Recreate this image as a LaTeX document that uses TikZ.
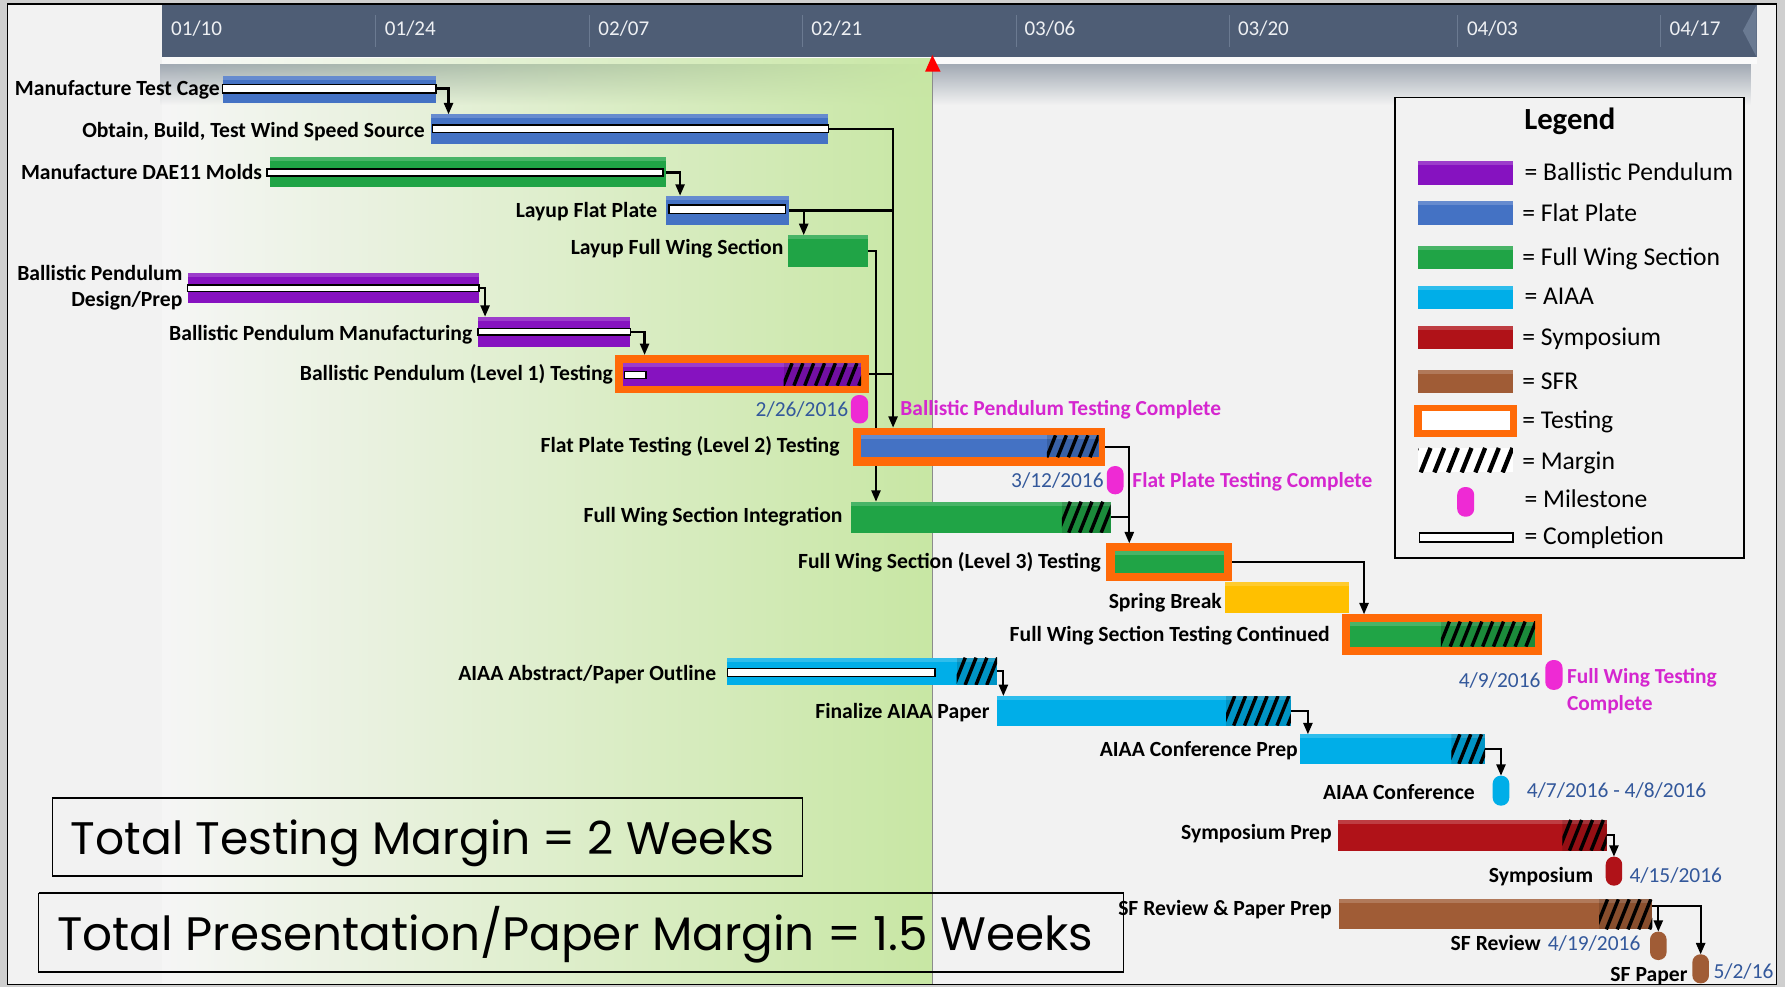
\documentclass[tikz,border=0pt]{standalone}
\usepackage{fontspec}
\setmainfont{Carlito}
\newfontfamily\gothicfont{Poppins}
\usetikzlibrary{fit,arrows.meta,fadings,calc}
\definecolor{outerc}{HTML}{CFCFCF}
\definecolor{bgc}{HTML}{F2F2F2}
\definecolor{bgl}{HTML}{F6F6F6}
\definecolor{bandc}{HTML}{A2AAB4}
\definecolor{todayg}{HTML}{C8E7A4}
\definecolor{todayline}{HTML}{8C8C8C}
\definecolor{hdrc}{HTML}{4E5D75}
\definecolor{hdrsep}{HTML}{6B7A91}
\definecolor{hdrtext}{HTML}{EEF0F3}
\definecolor{hdrtip}{HTML}{6A7A92}
\definecolor{barblue}{HTML}{4472C4}
\definecolor{bargreen}{HTML}{20A446}
\definecolor{barpurple}{HTML}{8612C0}
\definecolor{barcyan}{HTML}{00AEE8}
\definecolor{barred}{HTML}{B01218}
\definecolor{barbrown}{HTML}{A05C36}
\definecolor{baryellow}{HTML}{FFC000}
\definecolor{testorange}{HTML}{FF6A08}
\definecolor{msmag}{HTML}{EE2AD4}
\definecolor{mstext}{HTML}{D526CF}
\definecolor{dateblue}{HTML}{33589B}
\pgfdeclarelayer{bg}
\pgfdeclarelayer{connlayer}
\pgfsetlayers{bg,connlayer,main}
\tikzset{
  bar/.style={inner sep=0pt, outer sep=0pt, draw=none},
  lbl/.style={font=\fontsize{19}{20}\selectfont\bfseries, inner sep=0pt, text=black},
  datel/.style={font=\fontsize{18.8}{20}\selectfont, inner sep=0pt, text=dateblue},
  msl/.style={font=\fontsize{18.8}{20}\selectfont\bfseries, inner sep=0pt, text=mstext},
  legt/.style={font=\fontsize{22.5}{24}\selectfont, inner sep=0pt, text=black, anchor=base west},
  hdr/.style={font=\fontsize{18.5}{20}\selectfont, text=hdrtext, inner sep=0pt, anchor=base west},
  conn/.style={line width=1.9pt, -{Triangle[length=10pt,width=8pt]}},
  connl/.style={line width=1.9pt},
  compl/.style={fill=white, draw=black, line width=1.3pt, inner sep=0pt, outer sep=0pt},
  pill/.style={inner sep=0pt, outer sep=0pt, rounded corners=7pt, draw=none},
  testbox/.style={inner sep=0pt, outer sep=0pt, fill=testorange, draw=none},
  bigbox/.style={inner sep=0pt, outer sep=0pt, draw=black, line width=0.8pt},
}
\newcommand\gbar[6]{%
  \node[bar, fill=#6, fit={(#2,#3) (#4,#5)}] (#1) {};
  \fill[#6!82!white] (#1.north west) rectangle ([yshift=-3.5pt]#1.north east);
}
\newcommand\cbar[5]{\node[compl, fit={(#2,#3) (#4,#5)}] (#1) {};}
\newcommand\tbox[5]{\node[testbox, fit={(#2,#3) (#4,#5)}] (#1) {};}
\newcommand\mstone[6]{\node[pill, fill=#6, fit={(#2,#3) (#4,#5)}] (#1) {};}
\newcommand\hatch[6][9.5]{%
  \begin{scope}
    \clip (#2,#3) rectangle (#4,#5);
    \fill[black, opacity=0.15] (#2,#3) rectangle (#4,#5);
    \pgfmathsetmacro\hh{#5-#3}
    \pgfmathsetmacro\hd{0.4*\hh}
    \pgfmathsetmacro\ha{#2-\hd-2}
    \pgfmathsetmacro\hb{\ha+#1}
    \foreach \k in {\ha,\hb,...,#4} \draw[line width=#6] (\k,#5) -- ++(\hd,-\hh);
  \end{scope}}
\begin{document}
\begin{tikzpicture}[x=1pt,y=-1pt]
\useasboundingbox (0,0) rectangle (1568,867);
\begin{pgfonlayer}{bg}
  \fill[outerc] (0,0) rectangle (1568,867);
  \fill[bgc] (6.5,3.5) rectangle (1560.5,865);
  \fill[bgl] (142,50) rectangle (819,865);
  \fill[white!60!bgc] (142,50) rectangle (1543,56.5);
  \fill[bandc, path fading=south] (142,56.5) rectangle (1543,92);
  \fill[todayg, path fading=west] (142,51) rectangle (819,865);
  \draw[todayline, line width=1pt] (819,60) -- (819,865);
  \draw[black, line width=1.3pt] (6.5,3.5) rectangle (1560.5,865);
  \fill[hdrc] (142,4.4) rectangle (1543,50);
  \fill[hdrtip] (1531,27) -- (1543,4.4) -- (1543,50) -- cycle;
  \foreach \sx in {330,518,705,893,1080,1280,1459}
    \draw[hdrsep, line width=0.8pt] (\sx,13) -- (\sx,41);
  \fill[red] (819,48.3) -- (826.3,63) -- (812.6,63) -- cycle;
\end{pgfonlayer}
% header dates
\node[hdr] (h1) at (150.2,31.6) {01/10};
\node[hdr] (h2) at (337.9,31.6) {01/24};
\node[hdr] (h3) at (525.5,31.6) {02/07};
\node[hdr] (h4) at (712.5,31.6) {02/21};
\node[hdr] (h5) at (899.8,31.6) {03/06};
\node[hdr] (h6) at (1087.3,31.6) {03/20};
\node[hdr] (h7) at (1288.5,31.6) {04/03};
\node[hdr] (h8) at (1466.4,31.6) {04/17};
% legend
\node[draw=black, fill=bgc, line width=1.3pt, inner sep=0pt, fit={(1225.6,85.8) (1532,490)}] (legend) {};
\node[font=\fontsize{27}{28}\selectfont\bfseries, inner sep=0pt, anchor=base] (legtitle) at (1379,113.6) {Legend};
\gbar{lg1}{1245.6}{141.4}{1329}{162.5}{barpurple}
\gbar{lg2}{1245.6}{177}{1329}{198}{barblue}
\gbar{lg3}{1245.6}{216}{1329}{236.6}{bargreen}
\gbar{lg4}{1245.6}{251}{1329}{271.7}{barcyan}
\gbar{lg5}{1245.6}{286.4}{1329}{306.7}{barred}
\gbar{lg6}{1245.6}{325}{1329}{345.5}{barbrown}
\tbox{lg7}{1241.8}{355.8}{1333}{383.6}
\node[bar, fill=white, fit={(1249,361) (1326,377.7)}] (lg7i) {};
\node[bar, fill=white, fit={(1245.6,393.5) (1329,415)}] (lg8) {};
\begin{scope}
  \clip (1245.6,393.5) rectangle (1329,415);
  \foreach \k in {1236,1248,...,1330} \draw[line width=3.8pt] (\k,415) -- ++(8.6,-21.5);
\end{scope}
\mstone{lg9}{1280}{427.8}{1295}{453.9}{msmag}
\cbar{lg10}{1247}{468}{1329}{476}
\node[legt] (lt1) at (1339,158.7) {= Ballistic Pendulum};
\node[legt] (lt2) at (1337,194.7) {= Flat Plate};
\node[legt] (lt3) at (1337,233.2) {= Full Wing Section};
\node[legt] (lt4) at (1339,267.8) {= AIAA};
\node[legt] (lt5) at (1337,303.9) {= Symposium};
\node[legt] (lt6) at (1337,342.2) {= SFR};
\node[legt] (lt7) at (1337,376.2) {= Testing};
\node[legt] (lt8) at (1337,412.8) {= Margin};
\node[legt] (lt9) at (1339,446.2) {= Milestone};
\node[legt] (lt10) at (1339,478.6) {= Completion};
% bars
\gbar{mtc}{195.6}{66.8}{383.2}{90.8}{barblue}
\cbar{mtc-c}{195.6}{74}{383}{81.5}
\gbar{obtain}{378.2}{100.4}{727.7}{126.5}{barblue}
\cbar{obtain-c}{380}{109.8}{727.7}{116.6}
\gbar{dae}{237}{138.2}{585}{164}{bargreen}
\cbar{dae-c}{234.5}{148.5}{582.4}{154.6}
\gbar{lfp}{585}{171.9}{693}{198}{barblue}
\cbar{lfp-c}{587.5}{180}{690}{187.4}
\gbar{lfw}{692.5}{206.5}{762.4}{234.3}{bargreen}
\gbar{bpd}{164.9}{239.5}{420.6}{265.9}{barpurple}
\cbar{bpd-c}{164.9}{250.4}{420.6}{256.2}
\gbar{bpm}{420}{278.2}{553.7}{304.5}{barpurple}
\cbar{bpm-c}{420}{288.4}{553.7}{294.3}
\tbox{bpt}{540.6}{311.8}{763}{345.5}
\gbar{bpt-i}{547}{319}{756.4}{338.8}{barpurple}
\hatch{688.3}{319}{756.4}{338.8}{3pt}
\cbar{bpt-c}{548.6}{326.5}{567.3}{332.3}
\tbox{fpt}{749}{375.7}{971}{409}
\gbar{fpt-i}{756.3}{382.4}{965}{401.7}{barblue}
\hatch{919.7}{382.4}{965}{401.7}{3pt}
\gbar{fwi}{747.6}{440.7}{975.7}{467.9}{bargreen}
\hatch{932.7}{440.7}{975.7}{467.9}{3pt}
\tbox{fwt}{971.7}{477.3}{1082.2}{510}
\gbar{fwt-i}{979.4}{483.7}{1075.6}{503}{bargreen}
\gbar{sb}{1076}{511.5}{1185}{538.2}{baryellow}
\tbox{fwc}{1178.5}{539.6}{1354.9}{575.4}
\gbar{fwc-i}{1186}{546}{1348.4}{568}{bargreen}
\hatch{1265.7}{546}{1348.4}{568}{3pt}
\gbar{aab}{638.9}{577.7}{875.9}{601.7}{barcyan}
\hatch{840.4}{577.7}{875.9}{601.7}{3pt}
\cbar{aab-c}{638.9}{587}{821.2}{594.4}
\gbar{faa}{875.8}{611.4}{1133.9}{637.4}{barcyan}
\hatch{1077.1}{611.4}{1133.9}{637.4}{3pt}
\gbar{acp}{1142}{645}{1304.5}{671}{barcyan}
\hatch{1274.9}{645}{1304.5}{671}{3pt}
\gbar{syp}{1175}{720.3}{1411.3}{747.2}{barred}
\hatch{1372.4}{720.3}{1411.3}{747.2}{3pt}
\gbar{sfr}{1176.2}{790}{1451.4}{816.4}{barbrown}
\hatch{1404.6}{790}{1451.4}{816.4}{3pt}
% milestones
\mstone{m1}{747.4}{347}{762.6}{372}{msmag}
\mstone{m2}{972.2}{409.4}{987}{434.2}{msmag}
\mstone{m3}{1357.4}{579.8}{1372.6}{606}{msmag}
\mstone{m4}{1311.2}{681.4}{1325.8}{707.7}{barcyan}
\mstone{m5}{1410.5}{752.5}{1425}{778}{barred}
\mstone{m6}{1449.4}{818.4}{1464}{843.3}{barbrown}
\mstone{m7}{1486.6}{838.3}{1501.2}{863.8}{barbrown}
% connectors
\coordinate (v1) at (784.5,0);
\coordinate (v2) at (769.5,0);
\coordinate (v3) at (992,0);
\begin{pgfonlayer}{connlayer}
  \draw[conn] (mtc-c.east) -- ++(11,0) coordinate (a1) -- (a1 |- obtain.north);
  \draw[conn] (obtain-c.east) -- (obtain-c.east -| v1) -- (v1 |- fpt.north);
  \draw[conn] (dae-c.east) -- ++(15,0) coordinate (a3) -- (a3 |- lfp.north);
  \draw[conn] (lfp.east) -- ++(13,0) coordinate (a4) -- (a4 |- lfw.north);
  \draw[connl] (lfp.east) -- (lfp.east -| v1);
  \draw[conn] (lfw.east) -- (lfw.east -| v2) -- (v2 |- fwi.north);
  \draw[connl] (bpt.east) -- (bpt.east -| v1);
  \draw[conn] (bpd-c.east) -- ++(5.5,0) coordinate (a7) -- (a7 |- bpm.north);
  \draw[conn] (bpm-c.east) -- ++(12.5,0) coordinate (a8) -- (a8 |- bpt.north);
  \draw[conn] (fpt.east) -- (fpt.east -| v3) -- (v3 |- fwt.north);
  \draw[connl] (fwi.east) -- (fwi.east -| v3);
  \draw[conn] (fwt.east) -- ++(116,0) coordinate (a10) -- (a10 |- fwc.north);
  \draw[conn] (aab.east) -- ++(5.5,0) coordinate (a11) -- (a11 |- faa.north);
  \draw[conn] (faa.east) -- ++(15,0) coordinate (a12) -- (a12 |- acp.north);
  \draw[conn] (acp.east) -| (m4.north);
  \draw[conn] (syp.east) -| (m5.north);
  \draw[conn] ([yshift=7pt]sfr.east) -| (m6.north);
  \draw[conn] ([yshift=7pt]sfr.east) -| (m7.north);
\end{pgfonlayer}
% task labels
\node[lbl, anchor=base east] (l1) at (193.3,84) {Manufacture Test Cage};
\node[lbl, anchor=base east] (l2) at (373.2,121) {Obtain, Build, Test Wind Speed Source};
\node[lbl, anchor=base east] (l3) at (230.4,158) {Manufacture DAE11 Molds};
\node[lbl, anchor=base east] (l4) at (577.4,191.3) {Layup Flat Plate};
\node[lbl, anchor=base east] (l5) at (688.3,223.6) {Layup Full Wing Section};
\node[lbl, anchor=base east] (l6a) at (160.4,246) {Ballistic Pendulum};
\node[lbl, anchor=base east] (l6b) at (160.4,269.5) {Design/Prep};
\node[lbl, anchor=base east] (l7) at (415,299) {Ballistic Pendulum Manufacturing};
\node[lbl, anchor=base east] (l8) at (538.6,334.3) {Ballistic Pendulum (Level 1) Testing};
\node[lbl, anchor=base east] (l9) at (737.7,397.2) {Flat Plate Testing (Level 2) Testing};
\node[lbl, anchor=base east] (l10) at (740.3,458.7) {Full Wing Section Integration};
\node[lbl, anchor=base east] (l11) at (967.2,499.7) {Full Wing Section (Level 3) Testing};
\node[lbl, anchor=base east] (l12) at (1073.5,534.8) {Spring Break};
\node[lbl, anchor=base east] (l13) at (1168.3,563.3) {Full Wing Section Testing Continued};
\node[lbl, anchor=base east] (l14) at (629.3,597.8) {AIAA Abstract/Paper Outline};
\node[lbl, anchor=base east] (l15) at (869.3,630.9) {Finalize AIAA Paper};
\node[lbl, anchor=base east] (l16) at (1140.3,664.3) {AIAA Conference Prep};
\node[lbl, anchor=base east] (l17) at (1295.7,702.6) {AIAA Conference};
\node[lbl, anchor=base east] (l18) at (1170,737) {Symposium Prep};
\node[lbl, anchor=base east] (l19) at (1399.6,775) {Symposium};
\node[lbl, anchor=base east] (l20) at (1170,804.2) {SF Review \& Paper Prep};
\node[lbl, anchor=base east] (l21) at (1353.7,835) {SF Review};
\node[lbl, anchor=base east] (l22) at (1482.5,862) {SF Paper};
% dates
\node[datel, anchor=base east] (d1) at (745.2,365.9) {2/26/2016};
\node[datel, anchor=base east] (d2) at (969.7,428.5) {3/12/2016};
\node[datel, anchor=base east] (d3) at (1353.4,603.6) {4/9/2016};
\node[datel, anchor=base west] (d4) at (1341,700.3) {4/7/2016 - 4/8/2016};
\node[datel, anchor=base west] (d5) at (1431.2,775) {4/15/2016};
\node[datel, anchor=base west] (d6) at (1359.5,835) {4/19/2016};
\node[datel, anchor=base west] (d7) at (1505,859.8) {5/2/16};
% milestone texts
\node[msl, anchor=base west] (t1) at (790.8,365) {Ballistic Pendulum Testing Complete};
\node[msl, anchor=base west] (t2) at (994.6,428) {Flat Plate Testing Complete};
\node[msl, anchor=base west] (t3a) at (1376.3,600.7) {Full Wing Testing};
\node[msl, anchor=base west] (t3b) at (1376.3,624.1) {Complete};
% margin boxes
\node[bigbox, fit={(46,700.7) (705,769.5)}] (box1) {};
\draw[line width=2pt] (box1.north west) -- (box1.north east);
\draw[line width=2pt] (box1.south west) -- (box1.south east);
\node[inner sep=0pt, anchor=base west] (bt1) at (62,751) {\resizebox{618pt}{!}{\gothicfont Total Testing Margin = 2 Weeks}};
\node[bigbox, fit={(34,784.7) (987,854.1)}] (box2) {};
\draw[line width=2pt] (box2.north west) -- (box2.north east);
\draw[line width=2pt] (box2.south west) -- (box2.south east);
\node[inner sep=0pt, anchor=base west] (bt2) at (50,834.5) {\resizebox{910pt}{!}{\gothicfont Total Presentation/Paper Margin = 1.5 Weeks}};
\end{tikzpicture}
\end{document}
